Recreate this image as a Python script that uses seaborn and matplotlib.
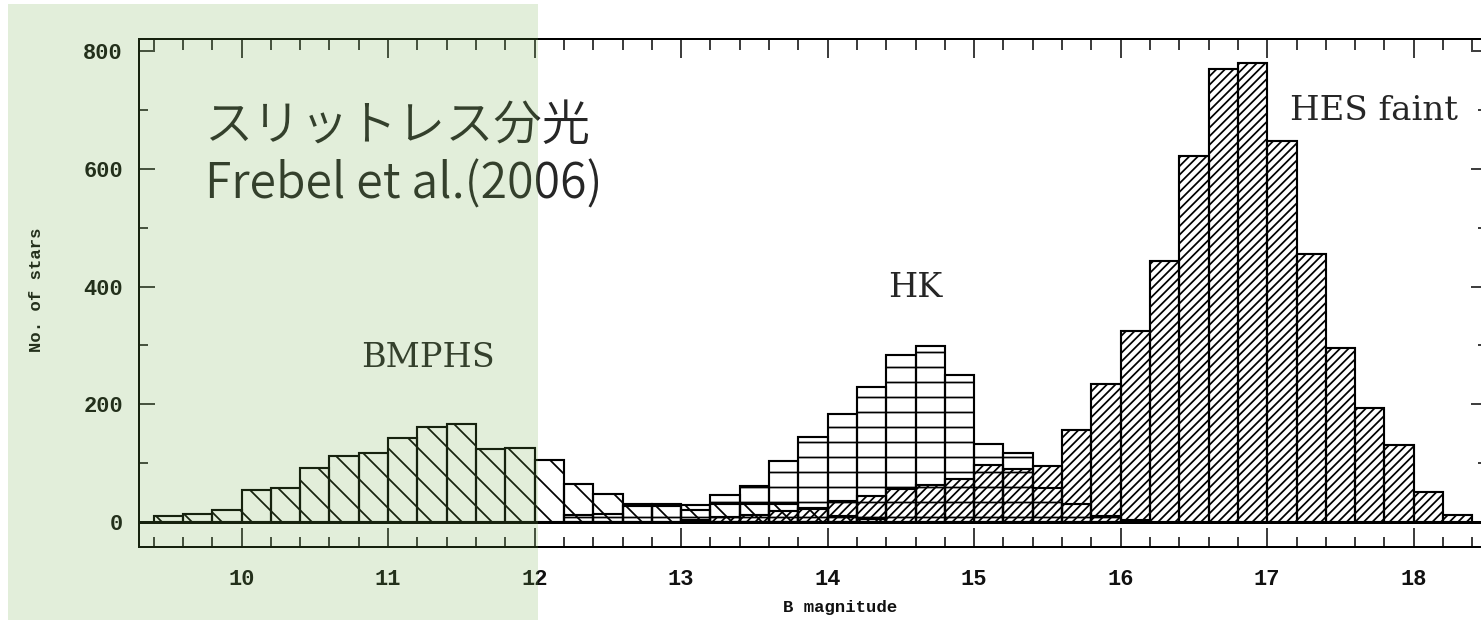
import numpy as np
import pandas as pd
import matplotlib
matplotlib.use("Agg")
import matplotlib.pyplot as plt
from matplotlib.patches import Rectangle
from matplotlib.ticker import MultipleLocator
import seaborn as sns

# Star counts per 0.2 mag bin for the three surveys
BIN_WIDTH = 0.2

bmphs_start = 9.4
bmphs_counts = [10, 13, 21, 54, 57, 92, 112, 117, 142, 161, 166, 124, 126,
                105, 65, 47, 31, 30, 28, 31, 30, 31, 22, 10, 5]

hk_start = 12.2
hk_counts = [12, 14, 27, 27, 20, 45, 61, 104, 144, 184, 229, 284, 299, 249,
             133, 118, 57, 30, 10, 3]

hes_start = 13.0
hes_counts = [3, 8, 12, 18, 24, 36, 44, 56, 63, 73, 97, 90, 95, 156,
              235, 325, 443, 622, 769, 780, 647, 456, 295, 194, 130, 51, 12]

x_ticks = [10, 11, 12, 13, 14, 15, 16, 17, 18]
y_ticks = [0, 200, 400, 600, 800]

DPI = 180
W, H = 1481, 623

sns.set_style("ticks")
plt.rcParams["font.family"] = ["Liberation Mono", "DejaVu Sans"]
plt.rcParams["hatch.linewidth"] = 0.7

fig = plt.figure(figsize=(W / DPI, H / DPI), dpi=DPI)
fig.patch.set_facecolor("white")
ax = fig.add_axes([139 / W, 1 - 546.7 / H, (1487 - 139) / W, (546.7 - 39.3) / H])
ax.set_facecolor("white")


def draw_hist(start, counts, hatch):
    counts = np.asarray(counts, dtype=float)
    edges = start + BIN_WIDTH * np.arange(len(counts) + 1)
    df = pd.DataFrame({"mag": edges[:-1] + BIN_WIDTH / 2, "n": counts})
    sns.histplot(data=df, x="mag", weights="n", bins=list(edges),
                 element="bars", fill=False, color="black", alpha=1,
                 hatch=hatch, linewidth=0.85, ax=ax)


draw_hist(bmphs_start, bmphs_counts, "\\\\")
draw_hist(hk_start, hk_counts, "--")
draw_hist(hes_start, hes_counts, "///////")

ax.axhline(0, color="black", lw=1.2, zorder=5)

ax.set_xlim(9.3, 18.5)
ax.set_ylim(-42, 820)
ax.set_xticks(x_ticks)
ax.set_yticks(y_ticks)
ax.xaxis.set_minor_locator(MultipleLocator(0.2))
ax.yaxis.set_minor_locator(MultipleLocator(100))
ax.tick_params(axis="both", which="both", direction="in", top=True, right=True,
               width=0.6, color="black")
ax.tick_params(axis="x", which="major", length=7.5, pad=9)
ax.tick_params(axis="x", which="minor", length=4.2)
ax.tick_params(axis="y", which="major", length=6.4, pad=6.4)
ax.tick_params(axis="y", which="minor", length=3.6)
for lab in ax.get_xticklabels() + ax.get_yticklabels():
    lab.set_fontsize(8.8)
    lab.set_fontweight("bold")
    lab.set_color("#111111")
for sp in ax.spines.values():
    sp.set_linewidth(0.8)
    sp.set_color("black")

ax.set_xlabel("B magnitude", fontsize=6.9, fontweight="bold", color="#111111")
ax.set_ylabel("No. of stars", fontsize=6.9, fontweight="bold", color="#111111")
ax.xaxis.label.set_va("center")
ax.yaxis.label.set_va("center")
ax.xaxis.set_label_coords(0.52, -0.119)
ax.yaxis.set_label_coords(-0.0757, 0.506)

serif = ["DejaVu Serif"]
ax.text(11.27, 278, "BMPHS", family=serif, fontsize=13.4, ha="center", va="center")
ax.text(14.6, 398, "HK", family=serif, fontsize=13.4, ha="center", va="center")
ax.text(17.155, 699, "HES faint", family=serif, fontsize=13.6, ha="left", va="center")

jp = ["Noto Sans CJK JP", "DejaVu Sans"]
fig.text(205 / W, 1 - 140 / H, "スリットレス分光", family=jp, fontsize=19.3,
         fontweight=350, color="#262626", ha="left", va="baseline", zorder=1.5)
fig.text(205 / W, 1 - 198 / H, "Frebel et al.(2006)", family=jp, fontsize=19.3,
         fontweight=350, color="#262626", ha="left", va="baseline", zorder=1.5)

fig.patches.append(Rectangle((8 / W, 1 - 620 / H), (538 - 8) / W, (620 - 4) / H,
                             transform=fig.transFigure, facecolor="#70AD47",
                             edgecolor="none", alpha=0.2, zorder=2))

fig.savefig("out.png", dpi=DPI)
